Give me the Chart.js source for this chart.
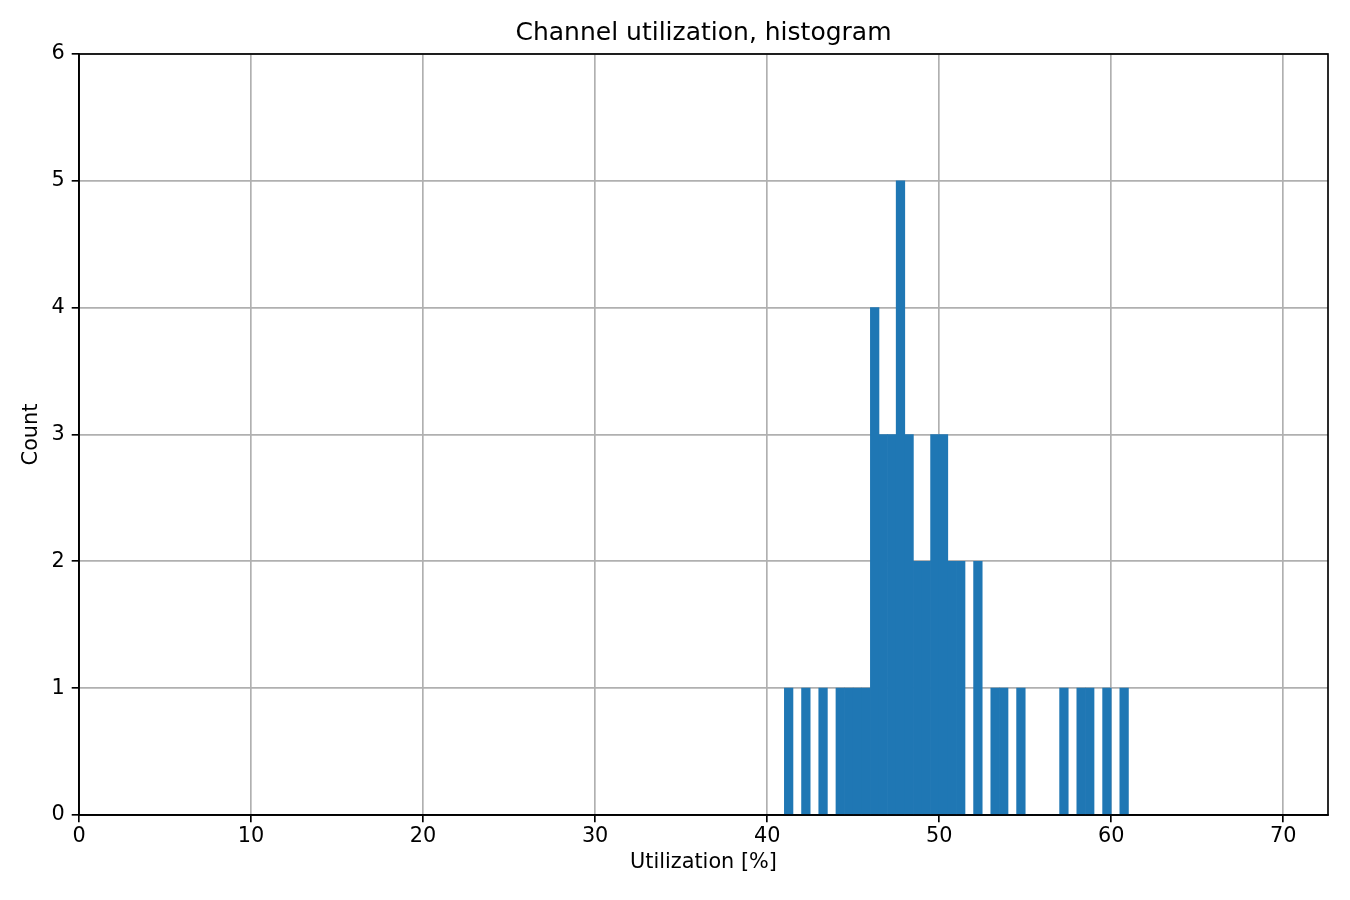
<!DOCTYPE html>
<html>
<head>
<meta charset="utf-8">
<script src="https://cdn.jsdelivr.net/npm/chart.js@4.4.1/dist/chart.umd.min.js"></script>
<style>
  html, body { margin: 0; padding: 0; background: #ffffff; }
  #wrap { width: 1350px; height: 900px; position: relative; }
</style>
</head>
<body>
<div id="wrap"><canvas id="c" width="1350" height="900"></canvas></div>
<script>
// Histogram bin centres (utilization %), bin width 0.5
const binCenters = [
  41.25, 41.75, 42.25, 42.75, 43.25, 43.75, 44.25, 44.75, 45.25, 45.75,
  46.25, 46.75, 47.25, 47.75, 48.25, 48.75, 49.25, 49.75, 50.25, 50.75,
  51.25, 51.75, 52.25, 52.75, 53.25, 53.75, 54.25, 54.75, 55.25, 55.75,
  56.25, 56.75, 57.25, 57.75, 58.25, 58.75, 59.25, 59.75, 60.25, 60.75
];
// Counts per bin
const binCounts = [
  1, 0, 1, 0, 1, 0, 1, 1, 1, 1,
  4, 3, 3, 5, 3, 2, 2, 3, 3, 2,
  2, 0, 2, 0, 1, 1, 0, 1, 0, 0,
  0, 0, 1, 0, 1, 1, 0, 1, 0, 1
];
const xTickValues = [0, 10, 20, 30, 40, 50, 60, 70];
const yTickValues = [0, 1, 2, 3, 4, 5, 6];
const chartTitle = 'Channel utilization, histogram';
const xLabel = 'Utilization [%]';
const yLabel = 'Count';

const FONT = 'DejaVu Sans';
const GRID = '#b0b0b0';
const LW = 1.67;

const frame = {
  id: 'frame',
  afterDraw(chart) {
    const { ctx, chartArea: a } = chart;
    ctx.save();
    ctx.strokeStyle = '#000000';
    ctx.lineWidth = LW;
    ctx.strokeRect(a.left, a.top, a.right - a.left, a.bottom - a.top);
    ctx.restore();
  }
};

new Chart(document.getElementById('c'), {
  type: 'bar',
  data: {
    datasets: [{
      data: binCenters.map((x, i) => ({ x: x, y: binCounts[i] })),
      backgroundColor: '#1f77b4',
      borderWidth: 0,
      barPercentage: 1.0,
      categoryPercentage: 1.0
    }]
  },
  options: {
    responsive: false,
    animation: false,
    devicePixelRatio: 1,
    layout: { padding: { left: 19.5, right: 22, top: 0, bottom: 0 } },
    plugins: {
      legend: { display: false },
      tooltip: { enabled: false },
      title: {
        display: true,
        fullSize: false,
        text: chartTitle,
        color: '#000000',
        font: { family: FONT, size: 25, weight: 'normal', lineHeight: 1.2 },
        padding: { top: 18, bottom: 6 }
      }
    },
    scales: {
      x: {
        type: 'linear',
        min: 0,
        max: 72.6,
        offset: false,
        z: 1,
        afterBuildTicks(scale) { scale.ticks = xTickValues.map(v => ({ value: v })); },
        afterFit(scale) { scale.height = 85; },
        ticks: {
          stepSize: 10,
          includeBounds: false,
          color: '#000000',
          font: { family: FONT, size: 20.8 },
          padding: 2,
          maxRotation: 0
        },
        grid: {
          offset: false,
          color: GRID,
          lineWidth: LW,
          tickColor: '#000000',
          tickLength: 7.3,
          tickWidth: LW
        },
        border: { display: true, color: '#000000', width: LW },
        title: {
          display: true,
          text: xLabel,
          color: '#000000',
          font: { family: FONT, size: 20.8, lineHeight: 1.2 },
          padding: { top: 0, bottom: 24.5 }
        }
      },
      y: {
        type: 'linear',
        min: 0,
        max: 6,
        z: 1,
        afterBuildTicks(scale) { scale.ticks = yTickValues.map(v => ({ value: v })); },
        afterFit(scale) { scale.width = 59.5; },
        ticks: {
          stepSize: 1,
          color: '#000000',
          font: { family: FONT, size: 20.8 },
          padding: 7
        },
        grid: {
          color: GRID,
          lineWidth: LW,
          tickColor: '#000000',
          tickLength: 7.3,
          tickWidth: LW
        },
        border: { display: true, color: '#000000', width: LW },
        title: {
          display: true,
          text: yLabel,
          color: '#000000',
          font: { family: FONT, size: 20.8, lineHeight: 1.2 },
          padding: { top: 0, bottom: 0 }
        }
      }
    }
  },
  plugins: [frame]
});
</script>
</body>
</html>
